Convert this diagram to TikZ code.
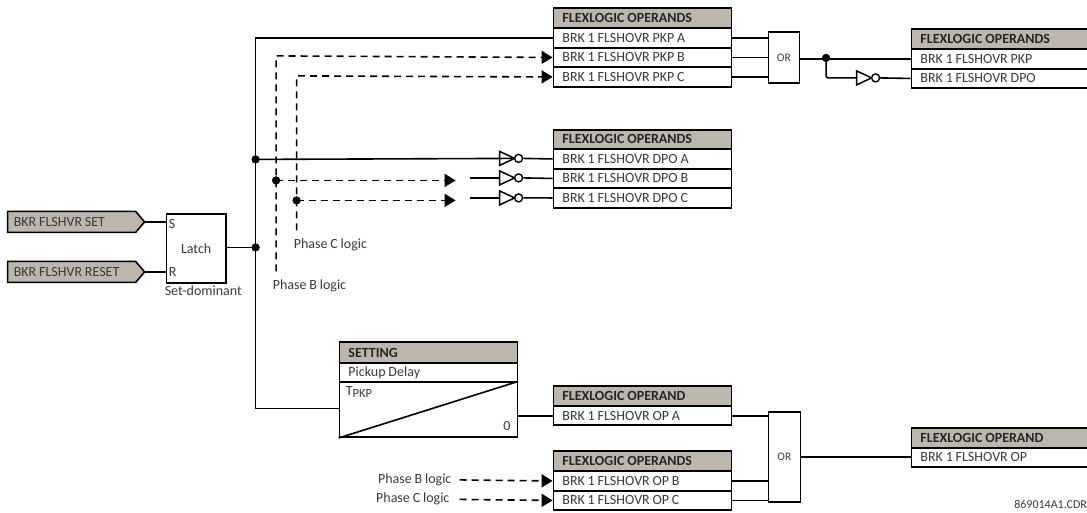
\documentclass[tikz,border=0pt]{standalone}
\usepackage{fontspec}
\setmainfont[WordSpace=0.9]{Carlito}
\usetikzlibrary{arrows.meta,positioning}
\definecolor{hdrfill}{HTML}{BDB6AC}
\definecolor{txt}{HTML}{3A3A3A}
\tikzset{
  wire/.style={line width=1.6pt,black},
  dashwire/.style={line width=1.6pt,black,dash pattern=on 7pt off 5pt},
  arrowed/.style={-{Triangle[length=11pt,width=13pt]}},
  hdr/.style={draw=black,line width=1.6pt,fill=hdrfill,anchor=north west,minimum width=178pt,text width=160pt,align=flush left,inner xsep=9pt,inner ysep=0pt,font=\fontsize{14}{14}\selectfont\bfseries,text=black!85},
  rowbox/.style={draw=black,line width=1.6pt,fill=white,anchor=north west,minimum width=178pt,text width=160pt,align=flush left,inner xsep=9pt,inner ysep=0pt,font=\fontsize{14}{14}\selectfont,text=txt},
  gate/.style={draw=black,line width=1.6pt,fill=white,anchor=north west,inner sep=0pt,font=\fontsize{11.5}{11.5}\selectfont,text=txt},
  lbl/.style={inner sep=0pt,font=\fontsize{14}{14}\selectfont,text=txt},
  jdot/.style={circle,fill=black,inner sep=0pt,minimum size=8pt},
  bubble/.style={circle,draw=black,line width=1.4pt,fill=white,inner sep=0pt,minimum size=8pt},
  tri/.style={draw=black,line width=1.5pt,fill=white,line join=miter},
}
\newcommand{\invgate}[3]{%
  \coordinate (#3in) at (#1,#2);
  \draw[tri] (#1,#2-7) -- (#1+15,#2) -- (#1,#2+7) -- cycle;
  \node[bubble] (#3) at (#1+19,#2) {};
  \coordinate (#3out) at (#1+23,#2);
}
\begin{document}
\begin{tikzpicture}[x=1pt,y=-1pt]
\useasboundingbox (0.4,0.6) rectangle (1087.4,512.6);
% inputs
\draw[line width=1.6pt,fill=hdrfill] (8,212) -- (136,212) -- (145,222.5) -- (136,233) -- (8,233) -- cycle;
\draw[line width=1.6pt,fill=hdrfill] (8,262) -- (136,262) -- (145,272.5) -- (136,283) -- (8,283) -- cycle;
\coordinate (setout) at (145,222.5);
\coordinate (resetout) at (145,272.5);
\node[lbl,anchor=west] at (14,223) {BKR FLSHVR SET};
\node[lbl,anchor=west] at (14,272.5) {BKR FLSHVR RESET};
% latch
\node[gate,minimum width=59.5pt,minimum height=69pt,font=\fontsize{14}{14}\selectfont] (latch) at (166,214) {Latch};
\node[lbl,anchor=west] at (169,224.5) {S};
\node[lbl,anchor=west] at (169,273) {R};
\node[lbl,anchor=west] at (165,291.5) {Set-dominant};
\draw[wire] (setout) -- (latch.west |- setout);
\draw[wire] (resetout) -- (latch.west |- resetout);
% FlexLogic PKP
\node[hdr,minimum height=20pt] (h1) at (553,8) {FLEXLOGIC OPERANDS};
\node[rowbox,minimum height=19.5pt] (pa) at (553,28) {BRK 1 FLSHOVR PKP A};
\node[rowbox,minimum height=19.5pt] (pb) at (553,47.5) {BRK 1 FLSHOVR PKP B};
\node[rowbox,minimum height=19.5pt] (pc) at (553,67) {BRK 1 FLSHOVR PKP C};
% FlexLogic DPO
\node[hdr,minimum height=19.5pt] (h2) at (553,129.5) {FLEXLOGIC OPERANDS};
\node[rowbox,minimum height=19.5pt] (da) at (553,149) {BRK 1 FLSHOVR DPO A};
\node[rowbox,minimum height=19.5pt] (db) at (553,168.5) {BRK 1 FLSHOVR DPO B};
\node[rowbox,minimum height=19.5pt] (dc) at (553,188) {BRK 1 FLSHOVR DPO C};
% right top
\node[hdr,minimum height=20pt] (h3) at (911,29) {FLEXLOGIC OPERANDS};
\node[rowbox,minimum height=19.5pt] (rp) at (911,49) {BRK 1 FLSHOVR PKP};
\node[rowbox,minimum height=19.5pt] (rd) at (911,68.5) {BRK 1 FLSHOVR DPO};
% OR top
\node[gate,minimum width=31pt,minimum height=51pt] (or1) at (768,32) {OR};
\draw[wire] (pa.east) -- (or1.west |- pa.east);
\draw[wire] (pb.east) -- (or1.west |- pb.east);
\draw[wire] (pc.east) -- (or1.west |- pc.east);
\node[jdot] (j4) at (826.5,58.5) {};
\draw[wire] (or1.east |- rp.west) -- (rp.west);
\invgate{857}{78.5}{i4}
\draw[wire,rounded corners=2pt] (j4.center) |- (i4in);
\draw[wire] (i4out) -- (rd.west);
% junctions and bus
\node[jdot] (j1) at (256,248) {};
\node[jdot] (j2) at (256,160) {};
\node[jdot] (j3) at (276.5,181) {};
\node[jdot] (j5) at (297,201) {};
\coordinate (busbot) at (256,409);
\node[hdr,minimum height=21pt] (hs) at (339,342) {SETTING};
\node[rowbox,minimum height=19pt] (pd) at (339,363) {Pickup Delay};
\node[rowbox,minimum height=55pt] (tm) at (339,382) {};
\draw[line width=1.6pt] (tm.south west) -- (tm.north east);
\node[lbl,anchor=west] at (346,392.5) {T\raisebox{-2.5pt}{\fontsize{12.5}{12.5}\selectfont PKP}};
\node[lbl,anchor=east] at (511,427) {0};
\draw[wire] (latch.east |- j1) -- (j1.center);
\draw[wire] (pa.west) -| (j1.center) |- (tm.west |- busbot);
% dashed top
\coordinate (bend) at (276.5,272);
\coordinate (cend) at (297,231);
\draw[dashwire,arrowed] (bend) -- (276.5,56.5) -- (pb.west);
\draw[dashwire,arrowed] (cend) -- (297,76.5) -- (pc.west);
% DPO row
\invgate{500}{159}{ia}
\invgate{500}{178.5}{ib}
\invgate{500}{198.5}{ic}
\draw[wire] (j2.center) -- (ia.west);
\draw[wire] (ia.east) -- (da.west);
\draw[wire] (ib.east) -- (db.west);
\draw[wire] (ic.east) -- (dc.west);
\coordinate (db1) at (456,181);
\coordinate (dc1) at (456,201);
\coordinate (ds2) at (470,178.5);
\coordinate (ds3) at (470,198.5);
\draw[dashwire,arrowed] (j3.center) -- (db1);
\draw[dashwire,arrowed] (j5.center) -- (dc1);
\draw[wire] (ds2) -- (ibin);
\draw[wire] (ds3) -- (icin);
\node[lbl,anchor=west] at (294,245) {Phase C logic};
\node[lbl,anchor=west] at (273,286) {Phase B logic};
% bottom
\node[hdr,minimum height=20pt] (h5) at (553,386) {FLEXLOGIC OPERAND};
\node[rowbox,minimum height=19pt] (oa) at (553,406) {BRK 1 FLSHOVR OP A};
\node[hdr,minimum height=20pt] (h6) at (553,451) {FLEXLOGIC OPERANDS};
\node[rowbox,minimum height=19.5pt] (ob) at (553,471) {BRK 1 FLSHOVR OP B};
\node[rowbox,minimum height=19.5pt] (oc) at (553,490.5) {BRK 1 FLSHOVR OP C};
\draw[wire] (tm.east |- oa.west) -- (oa.west);
\node[gate,minimum width=32pt,minimum height=90pt] (or2) at (768,412) {OR};
\draw[wire] (oa.east) -- (or2.west |- oa.east);
\draw[wire] (ob.east) -- (or2.west |- ob.east);
\draw[wire] (oc.east) -- (or2.west |- oc.east);
\node[hdr,minimum height=19.5pt] (h7) at (911,428) {FLEXLOGIC OPERAND};
\node[rowbox,minimum height=19.5pt] (ro) at (911,447.5) {BRK 1 FLSHOVR OP};
\draw[wire] (or2.east) -- (or2.east -| ro.west);
\node[lbl,anchor=east] (lb) at (452,480) {Phase B logic};
\node[lbl,anchor=east] (lc) at (450,499) {Phase C logic};
\draw[dashwire,arrowed] (460,480.5) -- (ob.west);
\draw[dashwire,arrowed] (460,500) -- (oc.west);
\node[lbl,anchor=east,font=\fontsize{12}{12}\selectfont] at (1087.5,505.5) {869014A1.CDR};
\foreach \n in {j1,j2,j3,j4,j5} \node[jdot] at (\n) {};
\end{tikzpicture}
\end{document}
